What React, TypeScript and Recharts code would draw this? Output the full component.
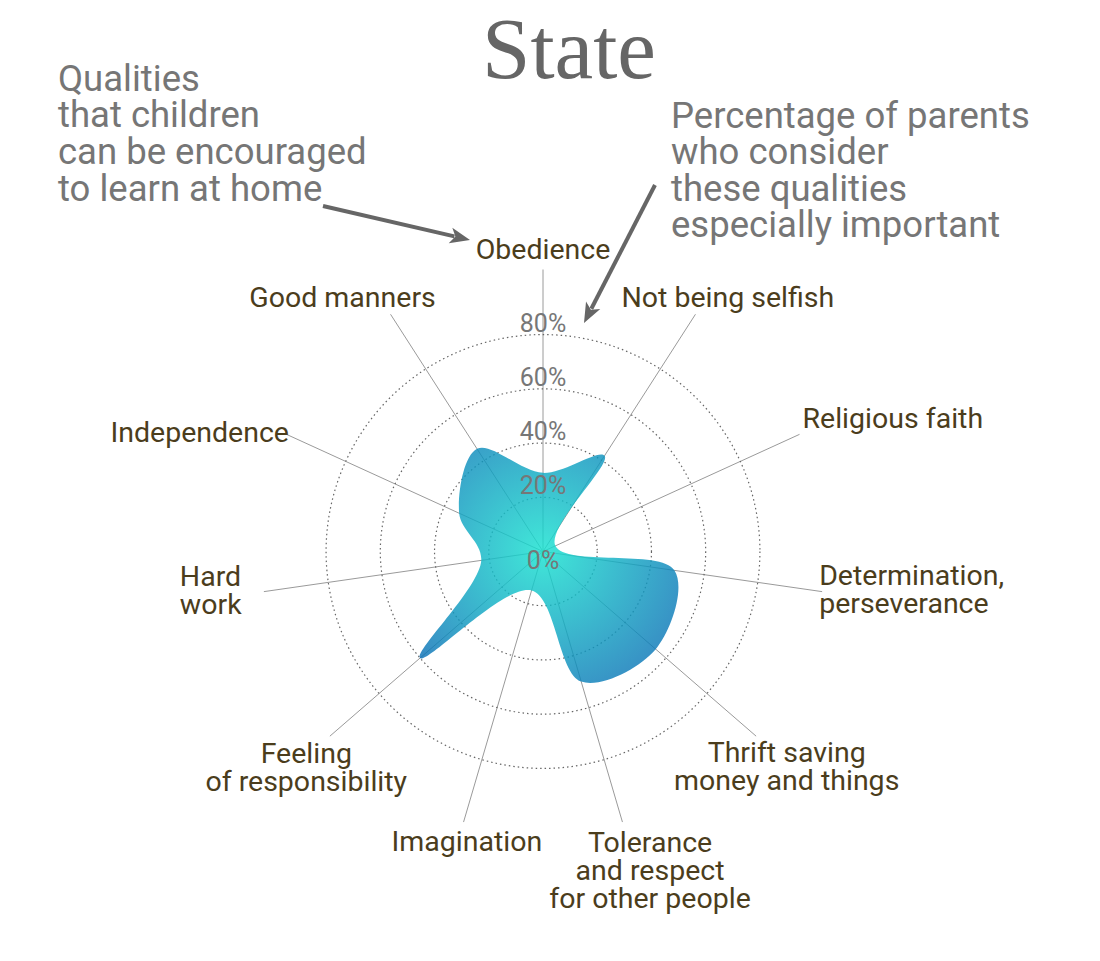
import React from 'react';
import { RadarChart, Radar, PolarGrid, PolarAngleAxis, PolarRadiusAxis } from 'recharts';

// Qualities, clockwise from the top
const qualities = [
  'Obedience',
  'Not being selfish',
  'Religious faith',
  'Determination,\nperseverance',
  'Thrift saving\nmoney and things',
  'Tolerance\nand respect\nfor other people',
  'Imagination',
  'Feeling\nof responsibility',
  'Hard\nwork',
  'Independence',
  'Good manners',
];

// % of parents who consider the quality especially important
const shares = [29, 42, 5, 49, 55, 50, 15, 60, 23, 34, 45];

const radiusTicks = [0, 20, 40, 60, 80];

const data = qualities.map((q, i) => ({ quality: q, share: shares[i] }));

const W = 1100;
const H = 961;
const CX = 543;
const CY = 551.5;
const R = 282;
const RAD = Math.PI / 180;

const labelColor = '#4b3d1c';
const noteColor = '#767676';

// where each category label sits relative to the end of its spoke
const labelLayout: { anchor: 'start' | 'middle' | 'end'; dx: number; dy: number }[] = [
  { anchor: 'middle', dx: 0, dy: -11 },
  { anchor: 'start', dx: -74, dy: -7.6 },
  { anchor: 'start', dx: 3, dy: -6 },
  { anchor: 'start', dx: -3, dy: -6.6 },
  { anchor: 'middle', dx: 30.6, dy: 25.5 },
  { anchor: 'middle', dx: 27.6, dy: 29.6 },
  { anchor: 'middle', dx: 3.4, dy: 29 },
  { anchor: 'middle', dx: -23.6, dy: 26.5 },
  { anchor: 'start', dx: -84, dy: -5.6 },
  { anchor: 'end', dx: 2.5, dy: 7.3 },
  { anchor: 'middle', dx: -48, dy: -7.6 },
];

const AngleTick = (props: any) => {
  const { payload, index } = props;
  const angle = payload?.coordinate ?? 90;
  const sx = CX + Math.cos(-angle * RAD) * R;
  const sy = CY + Math.sin(-angle * RAD) * R;
  const lay = labelLayout[index] ?? { anchor: 'middle', dx: 0, dy: 0 };
  const lines = String(payload.value).split('\n');
  return (
    <text
      x={sx + lay.dx}
      y={sy + lay.dy}
      textAnchor={lay.anchor}
      fill={labelColor}
      fontSize={28.5}
      fontFamily="Roboto, sans-serif"
    >
      {lines.map((l, i) => (
        <tspan key={i} x={sx + lay.dx} dy={i === 0 ? 0 : 28}>
          {l}
        </tspan>
      ))}
    </text>
  );
};

const RadiusTick = (props: any) => {
  const { x, y, payload } = props;
  const v = payload.value;
  if (!radiusTicks.includes(v)) return null;
  return (
    <text
      x={x}
      y={v === 0 ? y + 17 : y - 3}
      textAnchor="middle"
      fill="#777"
      fontSize={25}
      fontFamily="Roboto, sans-serif"
    >
      {v}%
    </text>
  );
};

// closed centripetal Catmull-Rom through the radar points
function smoothClosedPath(pts: { x: number; y: number }[], alpha = 0.5) {
  const n = pts.length;
  const p = (i: number) => pts[(i + n) % n];
  const eps = 1e-9;
  let d = `M${pts[0].x},${pts[0].y}`;
  for (let i = 0; i < n; i++) {
    const p0 = p(i - 1);
    const p1 = p(i);
    const p2 = p(i + 1);
    const p3 = p(i + 2);
    const l01_2a = Math.pow((p1.x - p0.x) ** 2 + (p1.y - p0.y) ** 2, alpha);
    const l12_2a = Math.pow((p2.x - p1.x) ** 2 + (p2.y - p1.y) ** 2, alpha);
    const l23_2a = Math.pow((p3.x - p2.x) ** 2 + (p3.y - p2.y) ** 2, alpha);
    const l01_a = Math.sqrt(l01_2a);
    const l12_a = Math.sqrt(l12_2a);
    const l23_a = Math.sqrt(l23_2a);
    let c1x = p1.x;
    let c1y = p1.y;
    let c2x = p2.x;
    let c2y = p2.y;
    if (l01_a > eps) {
      const a = 2 * l01_2a + 3 * l01_a * l12_a + l12_2a;
      const m = 3 * l01_a * (l01_a + l12_a);
      c1x = (p1.x * a - p0.x * l12_2a + p2.x * l01_2a) / m;
      c1y = (p1.y * a - p0.y * l12_2a + p2.y * l01_2a) / m;
    }
    if (l23_a > eps) {
      const b = 2 * l23_2a + 3 * l23_a * l12_a + l12_2a;
      const m = 3 * l23_a * (l23_a + l12_a);
      c2x = (p2.x * b + p1.x * l23_2a - p3.x * l12_2a) / m;
      c2y = (p2.y * b + p1.y * l23_2a - p3.y * l12_2a) / m;
    }
    d += `C${c1x},${c1y},${c2x},${c2y},${p2.x},${p2.y}`;
  }
  return d + 'Z';
}

const BlobShape = (props: any) => {
  const pts = props.points || [];
  if (!pts.length) return null;
  const cx = pts[0].cx ?? CX;
  const cy = pts[0].cy ?? CY;
  return (
    <g>
      <defs>
        <radialGradient id="blobFill" gradientUnits="userSpaceOnUse" cx={cx} cy={cy} r={175}>
          <stop offset="0%" stopColor="#16e2d0" />
          <stop offset="100%" stopColor="#0a67b4" />
        </radialGradient>
      </defs>
      <path d={smoothClosedPath(pts)} fill="url(#blobFill)" fillOpacity={0.82} stroke="none" />
    </g>
  );
};

const Arrow = ({ x1, y1, x2, y2 }: { x1: number; y1: number; x2: number; y2: number }) => {
  const ang = Math.atan2(y2 - y1, x2 - x1);
  const len = 20;
  const half = 8;
  const bx = x2 - Math.cos(ang) * len;
  const by = y2 - Math.sin(ang) * len;
  const lx = bx + Math.sin(ang) * half;
  const ly = by - Math.cos(ang) * half;
  const rx = bx - Math.sin(ang) * half;
  const ry = by + Math.cos(ang) * half;
  return (
    <g>
      <line x1={x1} y1={y1} x2={bx + Math.cos(ang) * 4} y2={by + Math.sin(ang) * 4} stroke="#666" strokeWidth={4} />
      <polygon points={`${x2},${y2} ${lx},${ly} ${bx + Math.cos(ang) * 5},${by + Math.sin(ang) * 5} ${rx},${ry}`} fill="#666" />
    </g>
  );
};

const leftNote = ['Qualities', 'that children', 'can be encouraged', 'to learn at home'];
const rightNote = ['Percentage of parents', 'who consider', 'these qualities', 'especially important'];

export default function App() {
  return (
    <div style={{ position: 'absolute', left: 0, top: 0, width: W, height: H, background: '#fff' }}>
      <RadarChart width={W} height={H} data={data} cx={CX} cy={CY} outerRadius={R} margin={{ top: 0, right: 0, bottom: 0, left: 0 }}>
        <PolarGrid gridType="circle" polarRadius={[0]} stroke="#9a9a9a" strokeWidth={1} />
        <PolarGrid gridType="circle" radialLines={false} stroke="#666" strokeWidth={1.2} strokeDasharray="1.5 3" />
        <PolarAngleAxis dataKey="quality" tick={<AngleTick />} tickLine={false} axisLine={false} />
        <PolarRadiusAxis
          angle={90}
          domain={[0, 104]}
          ticks={radiusTicks as any}
          tick={<RadiusTick />}
          tickLine={false}
          axisLine={false}
        />
        <Radar dataKey="share" shape={<BlobShape />} isAnimationActive={false} />
      </RadarChart>
      <svg width={W} height={H} style={{ position: 'absolute', left: 0, top: 0, pointerEvents: 'none' }}>
        <text x={569} y={78} textAnchor="middle" fontFamily="'Liberation Serif', serif" fontSize={87} fill="#666">
          State
        </text>
        <text fontFamily="Roboto, sans-serif" fontSize={36.5} fill={noteColor}>
          {leftNote.map((l, i) => (
            <tspan key={i} x={58} y={90.5 + i * 36.8}>
              {l}
            </tspan>
          ))}
        </text>
        <text fontFamily="Roboto, sans-serif" fontSize={36.5} fill={noteColor}>
          {rightNote.map((l, i) => (
            <tspan key={i} x={671} y={127.5 + i * 36.5}>
              {l}
            </tspan>
          ))}
        </text>
        <Arrow x1={323} y1={206} x2={470} y2={240} />
        <Arrow x1={655} y1={185} x2={584} y2={323} />
      </svg>
    </div>
  );
}
